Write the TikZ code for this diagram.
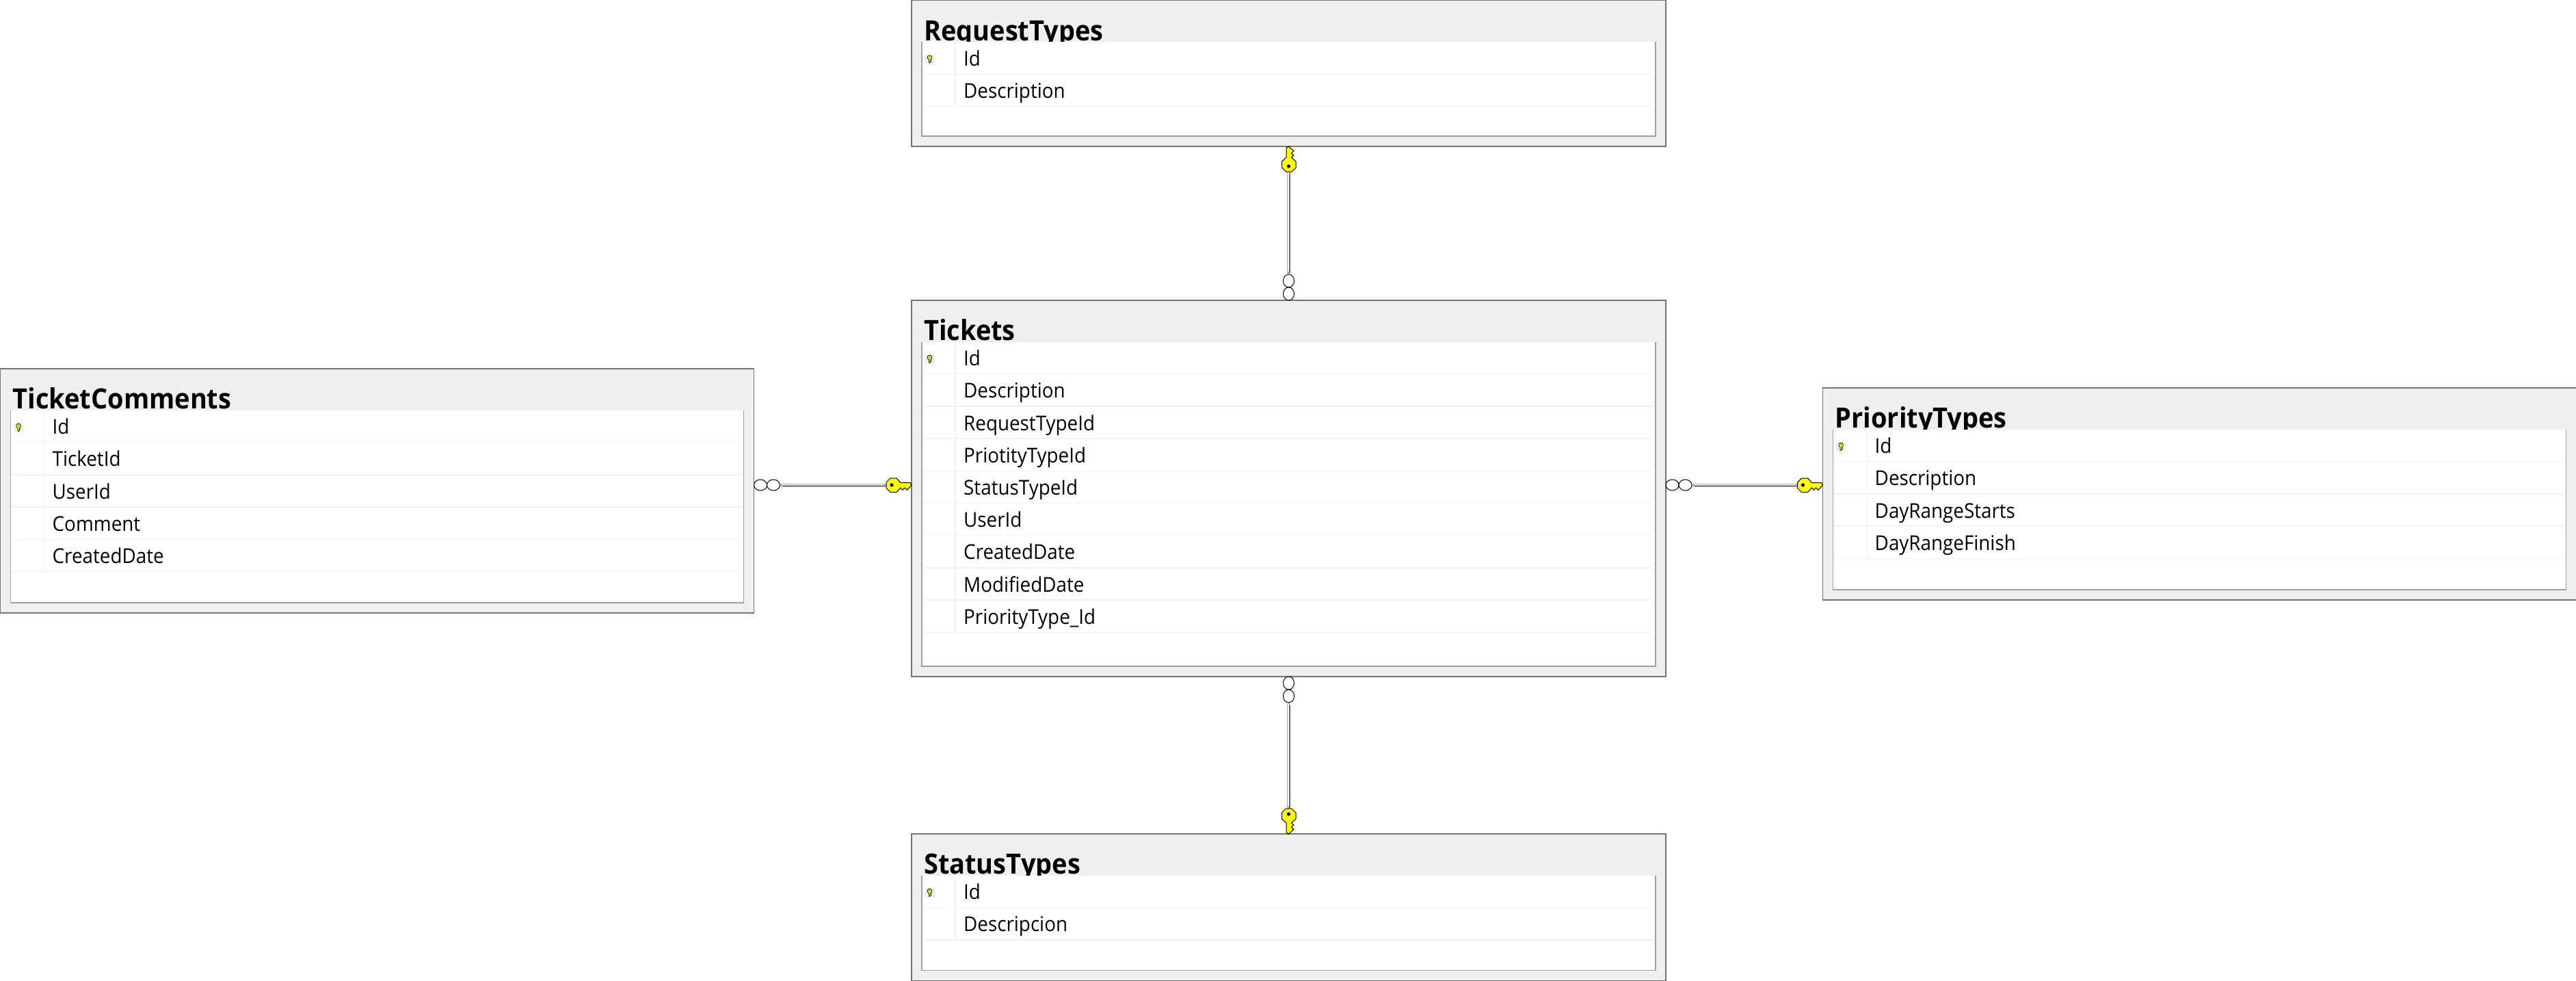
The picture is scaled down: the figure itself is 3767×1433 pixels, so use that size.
\documentclass[tikz,border=0pt]{standalone}
\usepackage{fontspec}
\setmainfont{Open Sans}[FakeStretch=0.93]
\tikzset{%
    tablebox/.style={draw=tablerim,fill=tablegray,line width=1.2pt,inner sep=0pt,
      outer sep=0pt,anchor=north west},
    tabletitle/.style={anchor=base west,inner sep=0pt,font=\fontsize{40.8}{46}\selectfont\bfseries},
    fieldname/.style={anchor=base west,inner sep=0pt,font=\fontsize{29.9}{34}\selectfont},
    panelrim/.style={draw=panelgray,line width=1.3pt},
    rowline/.style={draw=rowgray,line width=1.3pt},
    fklink/.style={draw=gray!65,line width=5pt,line cap=round,
      postaction={draw=white,line width=1.6pt,line cap=butt,
        transform canvas={shift={(-.7pt,.7pt)}}},
      postaction={draw=gray!80!black,line width=1.5pt,line cap=butt,
        transform canvas={shift={(1.3pt,-1.3pt)}}}},
    keyshape/.style={draw=black,fill=keyyellow,line width=1pt,line join=miter},
    manyring/.style={draw=black,fill=white,line width=1pt},
    pics/fkkey/.style={code={%
      \path[keyshape] (-37,-4) -- ++(6,-6) -- ++(9,0) -- ++(6,6.5) -- ++(14,0)
        -- ++(2,3.5) -- ++(-6.5,7.3) -- ++(-3.5,-3.3) -- ++(-3,3.3) -- ++(-3,-3.3)
        -- ++(-6,6.5) -- ++(-9,0) -- ++(-6,-6) -- cycle;% key
      \fill (-29,0) circle (2.6);% hole
    }},
    pics/manyend/.style={code={%
      \path[manyring] (9.5,0) ellipse (9.5 and 8);% ring at the table
      \path[manyring] (28.5,0) ellipse (9.5 and 8);% outer ring
    }}
}
\definecolor{tablerim}{HTML}{747474}
\definecolor{tablegray}{HTML}{EFEFEF}
\definecolor{panelgray}{HTML}{A0A0A0}
\definecolor{rowgray}{HTML}{F2F2F2}
\definecolor{keyyellow}{HTML}{FFFF00}

% name, x, y, width, height, title, fields
\newcommand{\dbtable}[7]{%
  \node[tablebox,minimum width=#4pt,minimum height=#5pt] (#1) at (#2,#3) {};
  \node[tabletitle] (#1-title) at ([shift={(18,58.5)}]#1.north west) {#6};
  \coordinate (#1-nw) at ([shift={(15,60.5)}]#1.north west);% panel corners
  \coordinate (#1-ne) at ([shift={(-15,60.5)}]#1.north east);
  \coordinate (#1-se) at ([shift={(-15,-15)}]#1.south east);
  \coordinate (#1-sw) at ([shift={(15,-15)}]#1.south west);
  \fill[white] (#1-nw) rectangle (#1-se);
  \draw[panelrim] (#1-nw) -- (#1-sw) -- (#1-se) -- (#1-ne);
  \foreach \fieldtext [count=\fieldno] in {#7}{%
    \draw[rowline] ([shift={(1.5,47.2*\fieldno)}]#1-nw) -- ([shift={(-3,47.2*\fieldno)}]#1-ne);
    \draw[rowline] ([shift={(49,47.2*\fieldno-47.2)}]#1-nw) -- ++(0,47.2);
    \node[fieldname] (#1-f\fieldno) at ([shift={(61,35.2+47.2*\fieldno-47.2)}]#1-nw) {\fieldtext};
  }
  \fill[tablegray] ([shift={(4,19)}]#1-nw) rectangle ++(15,13);% pk mark
  \pic[rotate=-90,yscale=-1,scale=.3,keyshape/.append style={line width=.7pt}] at ([shift={(11.5,31)}]#1-nw) {fkkey};
}

\begin{document}
\begin{tikzpicture}[x=1pt,y=-1pt]
  \useasboundingbox (0,0) rectangle (3767,1433);

  \dbtable{RequestTypes}{1333}{.5}{1103}{213.5}{RequestTypes}{Id,Description}
  \dbtable{Tickets}{1333}{439}{1103}{550}{Tickets}{Id,Description,RequestTypeId,%
    PriotityTypeId,StatusTypeId,UserId,CreatedDate,ModifiedDate,PriorityType\_Id}
  \dbtable{TicketComments}{.5}{539}{1102}{357}{TicketComments}{Id,TicketId,UserId,Comment,CreatedDate}
  \dbtable{PriorityTypes}{2665.5}{567}{1102}{310}{PriorityTypes}{Id,Description,DayRangeStarts,DayRangeFinish}
  \dbtable{StatusTypes}{1333}{1219}{1103}{214.75}{StatusTypes}{Id,Descripcion}

  \coordinate (linkmid) at (1885,709);% height of the side links

  \draw[fklink,shorten <=41pt,shorten >=39pt] (Tickets.north) -- (RequestTypes.south);% request
  \draw[fklink,shorten <=41pt,shorten >=39pt] (Tickets.south) -- (StatusTypes.north);% status
  \draw[fklink,shorten <=41pt,shorten >=39pt] (TicketComments.east |- linkmid) -- (Tickets.west |- linkmid);% comments
  \draw[fklink,shorten <=41pt,shorten >=39pt] (Tickets.east |- linkmid) -- (PriorityTypes.west |- linkmid);% priority

  \pic[rotate=90] at (RequestTypes.south) {fkkey};
  \pic[rotate=90] at (Tickets.north) {manyend};
  \pic[rotate=-90] at (Tickets.south) {manyend};
  \pic[rotate=-90,yscale=-1] at (StatusTypes.north) {fkkey};
  \pic at (TicketComments.east |- linkmid) {manyend};
  \pic at (Tickets.west |- linkmid) {fkkey};
  \pic at (Tickets.east |- linkmid) {manyend};
  \pic at (PriorityTypes.west |- linkmid) {fkkey};
\end{tikzpicture}
\end{document}
